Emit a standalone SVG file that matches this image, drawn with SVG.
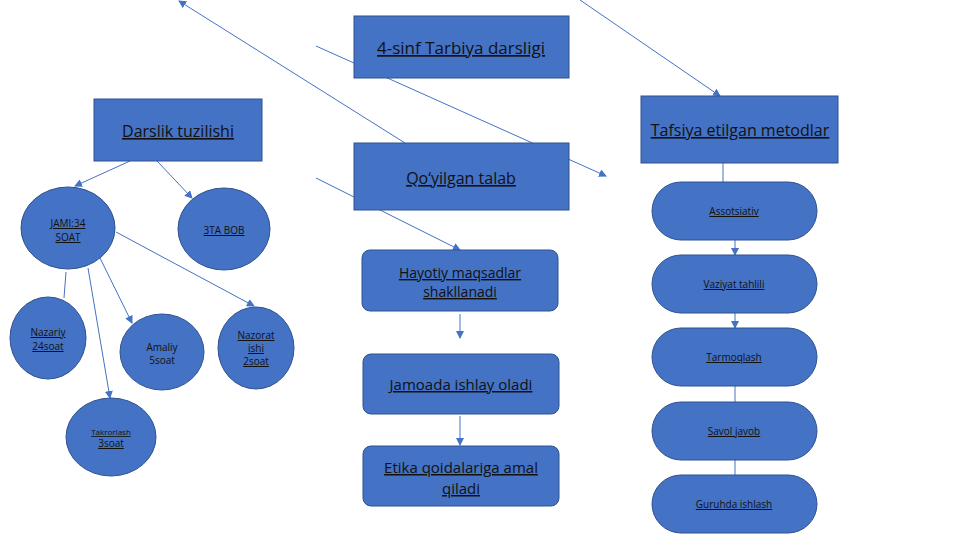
<svg xmlns="http://www.w3.org/2000/svg" width="961" height="540" viewBox="0 0 961 540">
<style>
.b{fill:#4472C4;stroke:#2F528F;stroke-width:1}
.t{font-family:"Open Sans","Liberation Sans",sans-serif;fill:#111;text-anchor:middle;text-decoration:underline}
.c line{stroke:#4472C4;stroke-width:1}
.a{marker-end:url(#m)}
</style>
<defs><marker id="m" markerWidth="8" markerHeight="8" refX="7" refY="4" orient="auto" markerUnits="userSpaceOnUse"><path d="M0,0L8,4L0,8z" fill="#4472C4"/></marker></defs>
<g class="c">
<line x1="316" y1="46" x2="606" y2="176" class="a"/>
<line x1="405" y1="143" x2="179" y2="1" class="a"/>
<line x1="316" y1="178" x2="460" y2="250" class="a"/>
<line x1="580" y1="0" x2="720" y2="96" class="a"/>
<line x1="130" y1="161" x2="75" y2="186" class="a"/>
<line x1="157" y1="161" x2="192" y2="198" class="a"/>
<line x1="100" y1="258" x2="132" y2="323" class="a"/>
<line x1="88" y1="268" x2="110" y2="398" class="a"/>
<line x1="116" y1="232" x2="254" y2="306" class="a"/>
<line x1="66" y1="272" x2="64" y2="298"/>
<line x1="460" y1="314" x2="460" y2="338" class="a"/>
<line x1="460" y1="416" x2="460" y2="445" class="a"/>
<line x1="723" y1="163" x2="723" y2="182"/>
<line x1="735" y1="240" x2="735" y2="255" class="a"/>
<line x1="735" y1="313" x2="735" y2="328" class="a"/>
<line x1="735" y1="386" x2="735" y2="402"/>
<line x1="735" y1="460" x2="735" y2="475"/>
</g>
<g id="n-title"><rect class="b" x="354" y="16" width="215" height="62"/><text class="t" x="461" y="54" font-size="17">4-sinf Tarbiya darsligi</text></g>
<g id="n-darslik"><rect class="b" x="94" y="99" width="168" height="62"/><text class="t" x="178" y="137" font-size="16">Darslik tuzilishi</text></g>
<g id="n-talab"><rect class="b" x="354" y="143" width="215" height="67"/><text class="t" x="461" y="184" font-size="16">Qo‘yilgan talab</text></g>
<g id="n-tafsiya"><rect class="b" x="641" y="96" width="197" height="67"/><text class="t" x="740" y="136" font-size="16">Tafsiya etilgan metodlar</text></g>
<g id="n-jami"><ellipse class="b" cx="68" cy="228" rx="47" ry="41"/><text class="t" x="68" y="227" font-size="10">JAMI:34</text><text class="t" x="68" y="241" font-size="10">SOAT</text></g>
<g id="n-3ta"><ellipse class="b" cx="224" cy="229" rx="46" ry="41"/><text class="t" x="224" y="234" font-size="10">3TA BOB</text></g>
<g id="n-nazariy"><ellipse class="b" cx="48" cy="338" rx="38" ry="41"/><text class="t" x="48" y="336" font-size="10">Nazariy</text><text class="t" x="48" y="350" font-size="10">24soat</text></g>
<g id="n-amaliy"><ellipse class="b" cx="162" cy="352" rx="42" ry="38"/><text class="t" x="162" y="351" font-size="10" style="text-decoration:none">Amaliy</text><text class="t" x="162" y="364" font-size="10" style="text-decoration:none">5soat</text></g>
<g id="n-nazorat"><ellipse class="b" cx="256" cy="348" rx="38" ry="41"/><text class="t" x="256" y="339" font-size="10">Nazorat</text><text class="t" x="256" y="352" font-size="10">ishi</text><text class="t" x="256" y="365" font-size="10">2soat</text></g>
<g id="n-takror"><ellipse class="b" cx="111" cy="437" rx="45" ry="39"/><text class="t" x="111" y="435" font-size="8">Takrorlash</text><text class="t" x="111" y="447" font-size="10">3soat</text></g>
<g id="n-hayot"><rect class="b" x="362" y="250" width="196" height="61" rx="8"/><text class="t" x="460" y="278" font-size="14">Hayotiy maqsadlar</text><text class="t" x="460" y="297" font-size="14">shakllanadi</text></g>
<g id="n-jamoa"><rect class="b" x="363" y="354" width="196" height="60" rx="8"/><text class="t" x="461" y="390" font-size="15">Jamoada ishlay oladi</text></g>
<g id="n-etika"><rect class="b" x="363" y="446" width="196" height="60" rx="8"/><text class="t" x="461" y="473" font-size="15">Etika qoidalariga amal</text><text class="t" x="461" y="494" font-size="15">qiladi</text></g>
<g id="n-m1"><rect class="b" x="652" y="182" width="165" height="58" rx="29"/><text class="t" x="734" y="215" font-size="10">Assotsiativ</text></g>
<g id="n-m2"><rect class="b" x="652" y="255" width="165" height="58" rx="29"/><text class="t" x="734" y="288" font-size="10">Vaziyat tahlili</text></g>
<g id="n-m3"><rect class="b" x="652" y="328" width="165" height="58" rx="29"/><text class="t" x="734" y="361" font-size="10">Tarmoqlash</text></g>
<g id="n-m4"><rect class="b" x="652" y="402" width="165" height="58" rx="29"/><text class="t" x="734" y="435" font-size="10">Savol javob</text></g>
<g id="n-m5"><rect class="b" x="652" y="475" width="165" height="58" rx="29"/><text class="t" x="734" y="508" font-size="10">Guruhda ishlash</text></g>
</svg>
